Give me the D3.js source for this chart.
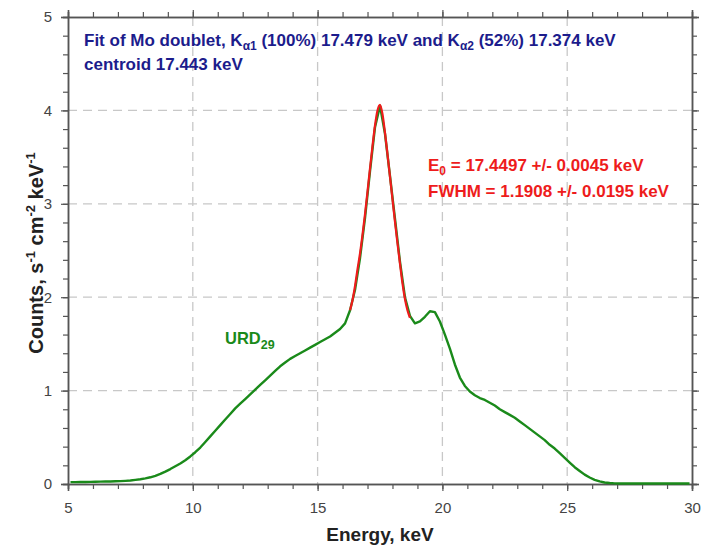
<!DOCTYPE html>
<html>
<head>
<meta charset="utf-8">
<script src="https://cdn.jsdelivr.net/npm/d3@7"></script>
<style>
  body { margin: 0; background: #fff; }
  text { font-family: "Liberation Sans", Arial, sans-serif; }
</style>
</head>
<body>
<script>
// histogram bins: start energy, width (keV)
var binStart = 5.0, binWidth = 0.2;

// URD29 counts per 0.2 keV bin, 5.0 .. 30.0 keV
var counts = [
  0.020, 0.020, 0.021, 0.022, 0.023, 0.024, 0.025, 0.026, 0.027, 0.029,   // 5.0 - 6.8
  0.031, 0.034, 0.038, 0.044, 0.051, 0.060, 0.072, 0.088, 0.108, 0.133,   // 7.0 - 8.8
  0.160, 0.190, 0.220, 0.255, 0.295, 0.340, 0.390, 0.450, 0.510, 0.570,   // 9.0 - 10.8
  0.630, 0.690, 0.750, 0.810, 0.860, 0.910, 0.960, 1.010, 1.060, 1.110,   // 11.0 - 12.8
  1.160, 1.210, 1.260, 1.300, 1.340, 1.370, 1.400, 1.430, 1.460, 1.490,   // 13.0 - 14.8
  1.520, 1.550, 1.580, 1.620, 1.660, 1.720, 1.860, 2.080, 2.420, 2.850,   // 15.0 - 16.8
  3.350, 3.820, 4.050, 3.750, 3.300, 2.840, 2.380, 2.000, 1.800, 1.720,   // 17.0 - 18.8
  1.740, 1.790, 1.850, 1.840, 1.740, 1.600, 1.450, 1.280, 1.140, 1.050,   // 19.0 - 20.8
  0.990, 0.950, 0.920, 0.900, 0.870, 0.840, 0.800, 0.770, 0.740, 0.710,   // 21.0 - 22.8
  0.670, 0.630, 0.590, 0.550, 0.510, 0.470, 0.420, 0.380, 0.330, 0.280,   // 23.0 - 24.8
  0.230, 0.180, 0.140, 0.100, 0.070, 0.045, 0.028, 0.016, 0.010, 0.007,   // 25.0 - 26.8
  0.005, 0.005, 0.005, 0.005, 0.005, 0.005, 0.005, 0.005, 0.005, 0.005,   // 27.0 - 28.8
  0.005, 0.005, 0.005, 0.005, 0.005                                       // 29.0 - 29.8
];

// fitted doublet curve (red)
var fitEnergy = [16.3, 16.4, 16.5, 16.6, 16.7, 16.8, 16.9, 17.0, 17.1, 17.2, 17.3, 17.4,
                 17.5, 17.6, 17.7, 17.8, 17.9, 18.0, 18.1, 18.2, 18.3, 18.4, 18.5, 18.6, 18.7];
var fitCounts = [1.86, 1.97, 2.12, 2.30, 2.47, 2.67, 2.89, 3.13, 3.38, 3.62, 3.84, 4.00,
                 4.06, 3.96, 3.76, 3.53, 3.29, 3.05, 2.81, 2.58, 2.36, 2.15, 1.98, 1.86, 1.78];

var xTicks = [5, 10, 15, 20, 25, 30];
var yTicks = [0, 1, 2, 3, 4, 5];

var w = 701, h = 549;
var pLeft = 68, pRight = 692, pTop = 17, pBottom = 484;

var svg = d3.select("body").append("svg")
    .attr("width", w)
    .attr("height", h);

var x = d3.scaleLinear().domain([5, 30]).range([pLeft, pRight]);
var y = d3.scaleLinear().domain([0, 5]).range([pBottom, pTop]);

//dashed grid
svg.selectAll(".gx")
    .data(xTicks.slice(1, -1))
    .enter().append("line")
    .attr("x1", function(d){ return x(d); })
    .attr("x2", function(d){ return x(d); })
    .attr("y1", pTop).attr("y2", pBottom)
    .style("stroke", "#c8c8c8").style("stroke-width", 1.3)
    .style("stroke-dasharray", "9,6");

svg.selectAll(".gy")
    .data(yTicks.slice(1, -1))
    .enter().append("line")
    .attr("x1", pLeft).attr("x2", pRight)
    .attr("y1", function(d){ return y(d); })
    .attr("y2", function(d){ return y(d); })
    .style("stroke", "#c8c8c8").style("stroke-width", 1.3)
    .style("stroke-dasharray", "9,6");

//axes on all four sides, minor ticks every 1 keV and 0.2 counts
var minorX = d3.range(5, 30.01, 1), minorY = d3.range(0, 5.01, 0.2);
var axisColor = "#555";
var fmt = d3.format("d");

svg.append("g").attr("transform", "translate(0," + pBottom + ")")
    .call(d3.axisBottom(x).tickValues(minorX).tickSize(5).tickFormat(""));
svg.append("g").attr("transform", "translate(0," + pBottom + ")")
    .call(d3.axisBottom(x).tickValues(xTicks).tickSize(7).tickPadding(11).tickFormat(fmt));
svg.append("g").attr("transform", "translate(0," + pTop + ")")
    .call(d3.axisTop(x).tickValues(minorX).tickSize(5).tickFormat(""));
svg.append("g").attr("transform", "translate(0," + pTop + ")")
    .call(d3.axisTop(x).tickValues(xTicks).tickSize(7).tickFormat(""));
svg.append("g").attr("transform", "translate(" + pLeft + ",0)")
    .call(d3.axisLeft(y).tickValues(minorY).tickSize(5).tickFormat(""));
svg.append("g").attr("transform", "translate(" + pLeft + ",0)")
    .call(d3.axisLeft(y).tickValues(yTicks).tickSize(7).tickPadding(9).tickFormat(fmt));
svg.append("g").attr("transform", "translate(" + pRight + ",0)")
    .call(d3.axisRight(y).tickValues(minorY).tickSize(5).tickFormat(""));
svg.append("g").attr("transform", "translate(" + pRight + ",0)")
    .call(d3.axisRight(y).tickValues(yTicks).tickSize(7).tickFormat(""));

svg.selectAll(".domain").style("stroke", axisColor).style("stroke-width", 1.5);
svg.selectAll(".tick line").style("stroke", axisColor).style("stroke-width", 1.2);
svg.selectAll(".tick text")
    .style("font-size", "15px")
    .style("font-family", "Liberation Sans, Arial, sans-serif")
    .style("fill", "#444");

//spectrum, one point per bin centre
var spec = counts.map(function(d, i){
    return { e: binStart + (i + 0.5) * binWidth, v: d };
});

var specLine = d3.line()
    .x(function(d){ return x(d.e); })
    .y(function(d){ return y(d.v); });

svg.append("path")
    .datum(spec)
    .attr("d", specLine)
    .style("fill", "none")
    .style("stroke", "#1a8a1a")
    .style("stroke-width", 2.4)
    .style("stroke-linejoin", "round");

//fit curve
var fitLine = d3.line()
    .x(function(d, i){ return x(fitEnergy[i]); })
    .y(function(d){ return y(d); })
    .curve(d3.curveMonotoneX);

svg.append("path")
    .datum(fitCounts)
    .attr("d", fitLine)
    .style("fill", "none")
    .style("stroke", "#ee1c1c")
    .style("stroke-width", 2.2);

//annotations
var blue = "#1c1c8c";
var t1 = svg.append("text")
    .attr("x", 84).attr("y", 46)
    .style("font-size", "17px").style("font-weight", "bold").style("fill", blue);
t1.append("tspan").text("Fit of Mo doublet, K");
t1.append("tspan").attr("dy", 4).style("font-size", "12px").text("\u03b11");
t1.append("tspan").attr("dy", -4).text(" (100%) 17.479 keV and K");
t1.append("tspan").attr("dy", 4).style("font-size", "12px").text("\u03b12");
t1.append("tspan").attr("dy", -4).text(" (52%) 17.374 keV");

svg.append("text")
    .attr("x", 84).attr("y", 70)
    .style("font-size", "17px").style("font-weight", "bold").style("fill", blue)
    .text("centroid 17.443 keV");

var red = "#ee1c1c";
var e0 = svg.append("text")
    .attr("x", 428).attr("y", 171)
    .style("font-size", "17px").style("font-weight", "bold").style("fill", red);
e0.append("tspan").text("E");
e0.append("tspan").attr("dy", 4).style("font-size", "12px").text("0");
e0.append("tspan").attr("dy", -4).text(" = 17.4497 +/- 0.0045 keV");

svg.append("text")
    .attr("x", 428).attr("y", 197)
    .style("font-size", "17px").style("font-weight", "bold").style("fill", red)
    .text("FWHM = 1.1908 +/- 0.0195 keV");

var urd = svg.append("text")
    .attr("x", 225).attr("y", 344)
    .style("font-size", "16.5px").style("font-weight", "bold").style("fill", "#1a8a1a");
urd.append("tspan").text("URD");
urd.append("tspan").attr("dy", 5).style("font-size", "12.5px").text("29");

//axis titles
svg.append("text")
    .attr("x", (pLeft + pRight) / 2).attr("y", 541)
    .attr("text-anchor", "middle")
    .style("font-size", "19px").style("font-weight", "bold").style("fill", "#222")
    .text("Energy, keV");

var yl = svg.append("text")
    .attr("transform", "translate(43," + 253 + ") rotate(-90)")
    .attr("text-anchor", "middle")
    .style("font-size", "20px").style("font-weight", "bold").style("fill", "#222");
yl.append("tspan").text("Counts, s");
yl.append("tspan").attr("dy", -8).style("font-size", "13px").text("-1");
yl.append("tspan").attr("dy", 8).text(" cm");
yl.append("tspan").attr("dy", -8).style("font-size", "13px").text("-2");
yl.append("tspan").attr("dy", 8).text(" keV");
yl.append("tspan").attr("dy", -8).style("font-size", "13px").text("-1");
</script>
</body>
</html>
